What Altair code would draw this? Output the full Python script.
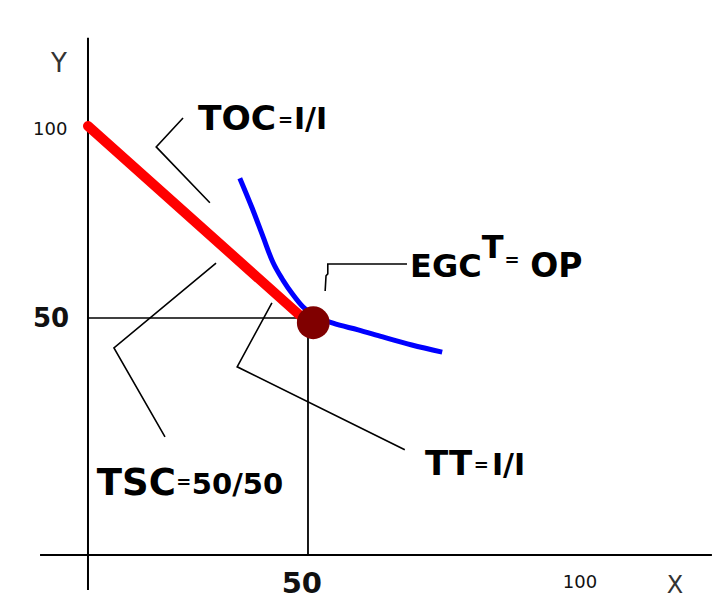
import altair as alt
import pandas as pd

# diagram units: 0..100 on both axes (50 = equilibrium)
x_lo, x_hi = -18.18, 141.82
y_lo, y_hi = -10.76, 115.40

# black strokes: axes, guides to the equilibrium, leader lines
x_axis_x = [-10.9, 141.8]
x_axis_y = [0, 0]
y_axis_x = [0, 0]
y_axis_y = [109.1, -7.4]
guide_h_x = [0, 50.5]
guide_h_y = [50, 50]
guide_v_x = [50, 50]
guide_v_y = [49.2, 0]
toc_lead_x = [21.6, 15.5, 27.7]
toc_lead_y = [92.2, 86.1, 74.3]
tsc_lead_x = [29.1, 5.9, 17.5]
tsc_lead_y = [61.6, 43.7, 24.9]
tt_lead_x = [41.8, 33.9, 72.0]
tt_lead_y = [53.2, 39.7, 22.2]
egc_lead_x = [53.9, 54.1, 54.5, 54.5, 72.5]
egc_lead_y = [55.7, 58.9, 59.3, 61.4, 61.4]

# red budget line (TOC) and blue indifference curve
toc_x = [0, 49.3]
toc_y = [90.5, 49.6]
curve_x = [34.5, 37.3, 39.8, 42.0, 44.3, 46.6, 48.9, 51.6, 55.7, 61.4, 67.0, 73.6, 80.5]
curve_y = [79.5, 73.2, 67.1, 61.8, 58.0, 54.9, 52.3, 50.4, 48.9, 47.5, 46.0, 44.3, 42.8]

# equilibrium point
eq_x = [51.2]
eq_y = [49.0]

# labels
label_text = ["Y", "100", "50", "50", "100", "X",
              "TOC", "I/I", "EGC", "T", "OP", "TT", "I/I", "TSC", "50/50",
              "=", "=", "=", "="]
label_x = [-6.6, -8.6, -8.4, 48.6, 111.8, 133.4,
           25.0, 46.8, 73.2, 89.5, 100.5, 76.6, 91.8, 2.0, 23.6,
           44.9, 96.4, 89.4, 21.8]
label_y = [101.9, 88.6, 48.1, -8.0, -7.0, -8.0,
           89.7, 89.9, 58.6, 62.7, 58.6, 16.9, 16.9, 12.7, 12.9,
           91.6, 62.0, 18.7, 15.2]
label_size = [26, 18, 26, 29, 18, 24,
              34.5, 30, 32, 32, 33, 34, 30, 37, 29,
              18, 18, 18, 18]
label_kind = ["plain", "plain", "boldc", "boldc", "plain", "plain",
              "bold", "bold", "bold", "bold", "bold", "bold", "bold", "bold", "bold",
              "eq", "eq", "eq", "eq"]
label_color = ["#333333", "#111111", "#111111", "#111111", "#111111", "#333333"] + ["#000000"] * 13

strokes = [
    ("xaxis", x_axis_x, x_axis_y, 2),
    ("yaxis", y_axis_x, y_axis_y, 2),
    ("gh", guide_h_x, guide_h_y, 1.5),
    ("gv", guide_v_x, guide_v_y, 1.8),
    ("toc", toc_lead_x, toc_lead_y, 1.6),
    ("tsc", tsc_lead_x, tsc_lead_y, 1.6),
    ("tt", tt_lead_x, tt_lead_y, 1.6),
    ("egc", egc_lead_x, egc_lead_y, 1.6),
]
rows = []
for name, xs, ys, w in strokes:
    for i, (a, b) in enumerate(zip(xs, ys)):
        rows.append({"seg": name, "ord": i, "x": a, "y": b, "w": w})
lines = pd.DataFrame(rows)

budget = pd.DataFrame({"x": toc_x, "y": toc_y})
curve = pd.DataFrame({"x": curve_x, "y": curve_y, "ord": range(len(curve_x))})
eq = pd.DataFrame({"x": eq_x, "y": eq_y})
labels = pd.DataFrame({"text": label_text, "x": label_x, "y": label_y,
                       "size": label_size, "kind": label_kind, "color": label_color})

X = alt.X("x:Q", scale=alt.Scale(domain=[x_lo, x_hi], nice=False, zero=False), axis=None)
Y = alt.Y("y:Q", scale=alt.Scale(domain=[y_lo, y_hi], nice=False, zero=False), axis=None)

black = alt.Chart(lines).mark_line(color="black").encode(
    x=X, y=Y, detail="seg:N", order="ord:Q",
    strokeWidth=alt.StrokeWidth("w:Q", scale=None))

red = alt.Chart(budget).mark_line(color="#ff0000", strokeWidth=10, strokeCap="round").encode(x=X, y=Y)

blue = alt.Chart(curve).mark_line(color="#0000ff", strokeWidth=5, interpolate="monotone").encode(
    x=X, y=Y, order="ord:Q")

dot = alt.Chart(eq).mark_circle(color="#800000", opacity=1, size=1075).encode(x=X, y=Y)

def text_layer(kind, **mark):
    return alt.Chart(labels).transform_filter(alt.datum.kind == kind).mark_text(
        font="DejaVu Sans", **mark).encode(
        x=X, y=Y, text="text:N",
        size=alt.Size("size:Q", scale=None),
        color=alt.Color("color:N", scale=None))

texts = [
    text_layer("plain", align="center", baseline="alphabetic"),
    text_layer("boldc", align="center", baseline="alphabetic", fontWeight="bold"),
    text_layer("bold", align="left", baseline="alphabetic", fontWeight="bold"),
    text_layer("eq", align="center", baseline="middle", fontWeight="bold"),
]

chart = alt.layer(black, red, blue, dot, *texts).properties(
    width=704, height=598, padding=0,
    autosize=alt.AutoSizeParams(type="none"),
    background="white",
).configure_view(strokeOpacity=0)

chart.save("out.html", embed_options={"renderer": "svg", "actions": False})
